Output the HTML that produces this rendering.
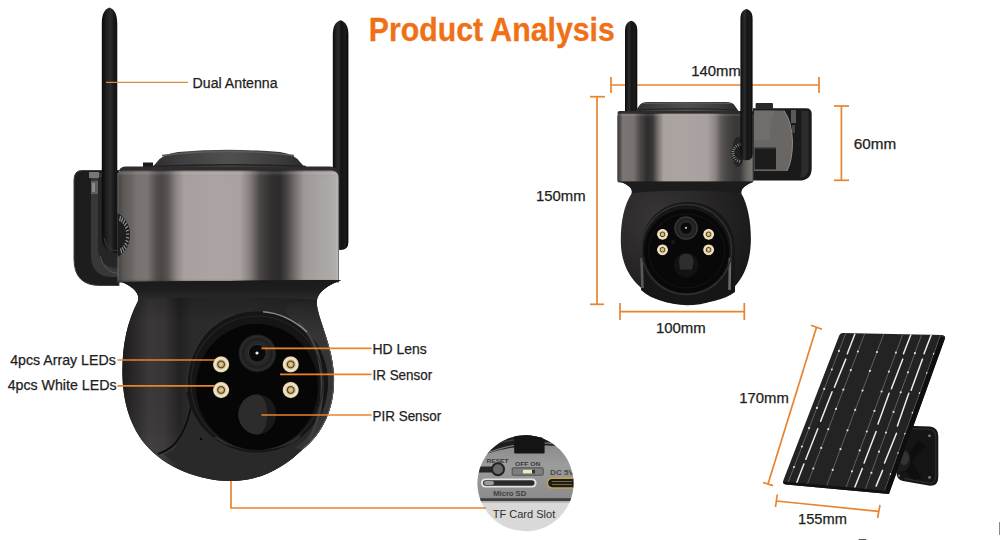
<!DOCTYPE html>
<html><head><meta charset="utf-8">
<style>
html,body{margin:0;padding:0;background:#fff;width:1000px;height:540px;overflow:hidden}
svg{display:block}
text{font-family:"Liberation Sans",sans-serif;fill:#1e1e1e}
.lbl{font-size:14px;stroke:#1e1e1e;stroke-width:0.25px}
</style></head>
<body>
<svg width="1000" height="540" viewBox="0 0 1000 540">
<defs>
  <linearGradient id="cyl" x1="0" x2="1" y1="0" y2="0">
    <stop offset="0" stop-color="#6a6a6a"/>
    <stop offset="0.008" stop-color="#4a4848"/>
    <stop offset="0.03" stop-color="#5e5a58"/>
    <stop offset="0.065" stop-color="#6a6664"/>
    <stop offset="0.085" stop-color="#77726f"/>
    <stop offset="0.133" stop-color="#7a7674"/>
    <stop offset="0.174" stop-color="#55504e"/>
    <stop offset="0.2" stop-color="#4a4644"/>
    <stop offset="0.228" stop-color="#5a5654"/>
    <stop offset="0.264" stop-color="#8a8482"/>
    <stop offset="0.3" stop-color="#a8a09e"/>
    <stop offset="0.44" stop-color="#aca4a2"/>
    <stop offset="0.553" stop-color="#aaa2a0"/>
    <stop offset="0.598" stop-color="#847e7c"/>
    <stop offset="0.643" stop-color="#4a4644"/>
    <stop offset="0.698" stop-color="#302e2e"/>
    <stop offset="0.734" stop-color="#2e2c2c"/>
    <stop offset="0.765" stop-color="#4a4646"/>
    <stop offset="0.806" stop-color="#7a7472"/>
    <stop offset="0.842" stop-color="#a09896"/>
    <stop offset="0.914" stop-color="#a8a4a2"/>
    <stop offset="0.982" stop-color="#b0acaa"/>
    <stop offset="0.993" stop-color="#bcb8b6"/>
    <stop offset="1" stop-color="#555"/>
  </linearGradient>
  <linearGradient id="cyl2" x1="0" x2="1" y1="0" y2="0">
    <stop offset="0" stop-color="#3a3838"/>
    <stop offset="0.025" stop-color="#5a5654"/>
    <stop offset="0.04" stop-color="#7a7674"/>
    <stop offset="0.12" stop-color="#77726f"/>
    <stop offset="0.17" stop-color="#4a4644"/>
    <stop offset="0.22" stop-color="#2e2c2c"/>
    <stop offset="0.26" stop-color="#3a3838"/>
    <stop offset="0.30" stop-color="#7a7472"/>
    <stop offset="0.34" stop-color="#aaa29f"/>
    <stop offset="0.5" stop-color="#aca4a2"/>
    <stop offset="0.66" stop-color="#a8a09e"/>
    <stop offset="0.72" stop-color="#8a8482"/>
    <stop offset="0.76" stop-color="#5e5a58"/>
    <stop offset="0.8" stop-color="#4a4646"/>
    <stop offset="0.86" stop-color="#3a3838"/>
    <stop offset="0.9" stop-color="#3a3838"/>
    <stop offset="0.95" stop-color="#6a6664"/>
    <stop offset="0.985" stop-color="#7a7674"/>
    <stop offset="1" stop-color="#444"/>
  </linearGradient>
  <linearGradient id="cylv" x1="0" x2="0" y1="0" y2="1">
    <stop offset="0" stop-color="#000" stop-opacity="0.3"/>
    <stop offset="0.025" stop-color="#fff" stop-opacity="0.12"/>
    <stop offset="0.06" stop-color="#000" stop-opacity="0"/>
    <stop offset="0.97" stop-color="#000" stop-opacity="0"/>
    <stop offset="1" stop-color="#000" stop-opacity="0.35"/>
  </linearGradient>
  <linearGradient id="cres" gradientUnits="userSpaceOnUse" x1="0" y1="296" x2="0" y2="336">
    <stop offset="0" stop-color="#363434" stop-opacity="0"/>
    <stop offset="1" stop-color="#363434" stop-opacity="1"/>
  </linearGradient>
  <linearGradient id="neck" x1="0" x2="0" y1="0" y2="1">
    <stop offset="0" stop-color="#1a1a1a"/>
    <stop offset="0.5" stop-color="#1e1e1e"/>
    <stop offset="1" stop-color="#2c2b2b"/>
  </linearGradient>
  <linearGradient id="cap" x1="0" x2="0" y1="0" y2="1">
    <stop offset="0" stop-color="#4a4848"/>
    <stop offset="0.4" stop-color="#3c3a3a"/>
    <stop offset="1" stop-color="#232222"/>
  </linearGradient>
  <linearGradient id="caph" x1="0" x2="1" y1="0" y2="0">
    <stop offset="0" stop-color="#2e2d2d"/>
    <stop offset="0.2" stop-color="#403e3e"/>
    <stop offset="0.5" stop-color="#524f4f"/>
    <stop offset="0.8" stop-color="#3e3c3c"/>
    <stop offset="1" stop-color="#2a2929"/>
  </linearGradient>
  <linearGradient id="domeh" gradientUnits="userSpaceOnUse" x1="122" y1="0" x2="336" y2="0">
    <stop offset="0" stop-color="#1c1b1b"/>
    <stop offset="0.06" stop-color="#2a2828"/>
    <stop offset="0.13" stop-color="#3a3838"/>
    <stop offset="0.2" stop-color="#363434"/>
    <stop offset="0.27" stop-color="#222121"/>
    <stop offset="0.33" stop-color="#2c2b2b"/>
    <stop offset="0.6" stop-color="#2c2b2b"/>
    <stop offset="0.9" stop-color="#262525"/>
    <stop offset="1" stop-color="#1c1c1c"/>
  </linearGradient>
  <linearGradient id="domev" gradientUnits="userSpaceOnUse" x1="0" y1="282" x2="0" y2="481">
    <stop offset="0" stop-color="#000" stop-opacity="0.3"/>
    <stop offset="0.2" stop-color="#000" stop-opacity="0"/>
    <stop offset="0.75" stop-color="#fff" stop-opacity="0.02"/>
    <stop offset="1" stop-color="#000" stop-opacity="0.15"/>
  </linearGradient>
  <radialGradient id="domehl" cx="160" cy="350" r="120" gradientUnits="userSpaceOnUse" gradientTransform="translate(160 350) scale(0.7 1.2) translate(-160 -350)">
    <stop offset="0" stop-color="#3c3a3a"/>
    <stop offset="0.45" stop-color="#302e2e"/>
    <stop offset="0.8" stop-color="#242323"/>
    <stop offset="1" stop-color="#1c1b1b"/>
  </radialGradient>
  <radialGradient id="dome" cx="0.28" cy="0.3" r="0.85">
    <stop offset="0" stop-color="#383636"/>
    <stop offset="0.45" stop-color="#292727"/>
    <stop offset="1" stop-color="#161616"/>
  </radialGradient>
  <linearGradient id="ant" x1="0" x2="1" y1="0" y2="0">
    <stop offset="0" stop-color="#0a0a0a"/>
    <stop offset="0.15" stop-color="#1a1a1a"/>
    <stop offset="0.35" stop-color="#2c2c2c"/>
    <stop offset="0.55" stop-color="#141414"/>
    <stop offset="0.8" stop-color="#1c1c1c"/>
    <stop offset="1" stop-color="#080808"/>
  </linearGradient>
  <radialGradient id="led" cx="0.5" cy="0.5" r="0.5">
    <stop offset="0" stop-color="#e8d49a"/>
    <stop offset="0.28" stop-color="#c8aa70"/>
    <stop offset="0.4" stop-color="#4a3a24"/>
    <stop offset="0.54" stop-color="#d8c498"/>
    <stop offset="0.74" stop-color="#f4ead2"/>
    <stop offset="0.9" stop-color="#e0d0b0"/>
    <stop offset="1" stop-color="#5a4a34"/>
  </radialGradient>
  <radialGradient id="lens" cx="0.5" cy="0.5" r="0.5">
    <stop offset="0" stop-color="#050505"/>
    <stop offset="0.45" stop-color="#151515"/>
    <stop offset="0.55" stop-color="#2a2a2a"/>
    <stop offset="0.75" stop-color="#1e1e1e"/>
    <stop offset="0.9" stop-color="#2c2c2c"/>
    <stop offset="1" stop-color="#121212"/>
  </radialGradient>
  <linearGradient id="pir" x1="0" x2="1" y1="0" y2="0">
    <stop offset="0" stop-color="#2c2c2c"/>
    <stop offset="0.5" stop-color="#262626"/>
    <stop offset="0.52" stop-color="#1a1a1a"/>
    <stop offset="1" stop-color="#222"/>
  </linearGradient>
  <linearGradient id="tfgrey" x1="0" x2="0" y1="0" y2="1">
    <stop offset="0" stop-color="#7e7e7e"/>
    <stop offset="0.5" stop-color="#9c9c9c"/>
    <stop offset="1" stop-color="#8a8a8a"/>
  </linearGradient>
  <clipPath id="domeclip"><path d="M122 282 L341 280 C328 285 317 292 316.7 302 C317 318 333 345 334 376 C335 405 325 432 302 450 C285 466 262 481 231 481 C200 481 165 468 145 444 C132 428 122.4 405 122.4 371 C122.4 345 127 322 138 301 C140 294 134 287 122 282 Z"/></clipPath>
  <clipPath id="tfclip"><circle cx="525.5" cy="483.3" r="48"/></clipPath>
  <clipPath id="panelclip"><path d="M843 333 L942 335 Q946 335.5 945 338.5 L889 494 L786 484.5 Q782 484 783.5 480 L839 336 Q840 333 843 333 Z"/></clipPath>
</defs>

<!-- ================= DIMENSION LINES (behind cameras) ================= -->
<g stroke="#E8832F" stroke-width="1.7" fill="none">
  <!-- 140mm -->
  <line x1="611" y1="85" x2="819" y2="85"/>
  <line x1="611" y1="77" x2="611" y2="93"/>
  <line x1="819" y1="77" x2="819" y2="93"/>
  <!-- 60mm -->
  <line x1="841.4" y1="106" x2="841.4" y2="180.3"/>
  <line x1="834" y1="106" x2="849" y2="106"/>
  <line x1="834" y1="180.3" x2="849" y2="180.3"/>
  <!-- 150mm -->
  <line x1="597" y1="96.7" x2="597" y2="304.3"/>
  <line x1="590" y1="96.7" x2="605" y2="96.7"/>
  <line x1="590" y1="304.3" x2="604" y2="304.3"/>
  <!-- 100mm -->
  <line x1="620" y1="311.7" x2="744.3" y2="311.7"/>
  <line x1="620" y1="303" x2="620" y2="320"/>
  <line x1="744.3" y1="303" x2="744.3" y2="320"/>
  <!-- 170mm -->
  <line x1="816.5" y1="327.3" x2="768" y2="484"/>
  <line x1="811" y1="325.3" x2="822" y2="329.3"/>
  <line x1="763" y1="482.5" x2="773" y2="485.6"/>
  <!-- 155mm -->
  <line x1="776.4" y1="501" x2="878.7" y2="511.4"/>
  <line x1="777.3" y1="494.5" x2="775.5" y2="507"/>
  <line x1="880" y1="505" x2="877.6" y2="518"/>
</g>

<text class="lbl" x="691.2" y="76" textLength="49.6" lengthAdjust="spacingAndGlyphs">140mm</text>

<!-- ================= MAIN CAMERA ================= -->
<g id="main">
  <!-- bracket -->
  <path d="M74 180 Q74 170.5 82 170.5 L119 170.5 L119 285.5 L100 285.5 Q74 285.5 74 259 Z" fill="#1d1d1d" stroke="#424242" stroke-width="1"/>
  <path d="M91 173 L119 173 L119 277 L113 277 Q91 277 91 255 Z" fill="#383838"/>
  <path d="M98 177 L119 177 L119 268 Q98 268 98 248 Z" fill="#262626"/>
  <path d="M100 256 Q104 272 119 274" stroke="#555" stroke-width="1" fill="none"/>
  <rect x="89" y="172" width="10" height="6" fill="#777"/>
  <rect x="91" y="181" width="7" height="13" fill="#5e5e5e"/>
  <rect x="92" y="183" width="3" height="9" fill="#8a8a8a"/>
  <!-- left antenna -->
  <path d="M101.8 24 C101.8 15 104 9.5 109.4 7.6 C115 9.5 117.3 15 117.3 24 L117.3 234 Q117.5 242 124 244 L126 246 L126 252 Q120 254 112 253 Q101.8 250 101.8 236 Z" fill="url(#ant)"/>
  <path d="M104 238 Q106 250 118 251" stroke="#3a3a3a" stroke-width="1" fill="none"/>
  <!-- right antenna -->
  <path d="M332.8 35 C332.8 27 335 22 340.6 20.2 C346 22 348.4 27 348.4 35 L348.4 242 Q348.4 250 340.6 250 Q332.8 250 332.8 242 Z" fill="url(#ant)"/>
  <!-- cap tab -->
  <rect x="143" y="162.5" width="10" height="8" fill="#1a1a1a"/>
  <!-- cap -->
  <path d="M150 171 Q153 166 157 162 Q162 154.5 178 152 Q228 147.5 280 152 Q295 154.5 300 162 Q304 166 308 171 Z" fill="url(#caph)"/>
  <path d="M162 155.5 Q228 147.5 294 155.5" stroke="#5c5a5a" stroke-width="1.3" fill="none"/>
  <path d="M152 166.5 Q228 163 306 166.5" stroke="#222" stroke-width="1.4" fill="none"/>
  <path d="M119 171 Q120 166.5 126 166.5 L330 166.5 Q337 167 338 173 Z" fill="#2e2d2d"/>
  <!-- cylinder -->
  <path d="M117.5 176 Q117.5 170.5 123 170.5 L332 170.5 Q339 171.5 339 179 L339 282.5 L117.5 282.5 Z" fill="url(#cyl)"/>
  <path d="M117.5 176 Q117.5 170.5 123 170.5 L332 170.5 Q339 171.5 339 179 L339 282.5 L117.5 282.5 Z" fill="url(#cylv)"/>
  <!-- gear -->
  <path d="M117.5 213 C127 219 130 227 130 235 C130 243 127 251 117.5 257 Z" fill="#1e1e1e"/>
  <g stroke="#9a9a9a" stroke-width="1.1"><line x1="119.7" y1="221.1" x2="120.5" y2="216.1"/><line x1="121.4" y1="222.2" x2="122.8" y2="217.5"/><line x1="122.9" y1="223.8" x2="124.9" y2="219.8"/><line x1="124.2" y1="225.9" x2="126.6" y2="222.7"/><line x1="125.2" y1="228.5" x2="128.0" y2="226.1"/><line x1="125.8" y1="231.3" x2="128.9" y2="229.9"/><line x1="126.1" y1="234.2" x2="129.2" y2="234.0"/><line x1="126.0" y1="237.3" x2="129.1" y2="238.1"/><line x1="125.6" y1="240.2" x2="128.5" y2="242.0"/><line x1="124.7" y1="242.8" x2="127.4" y2="245.7"/><line x1="123.6" y1="245.2" x2="125.8" y2="248.9"/><line x1="122.2" y1="247.1" x2="123.9" y2="251.4"/><line x1="120.6" y1="248.4" x2="121.7" y2="253.3"/></g>
  <!-- dome -->
  <path id="domeshape" d="M122 282 L341 280 C328 285 317 292 316.7 302 C317 318 333 345 334 376 C335 405 325 432 302 450 C285 466 262 481 231 481 C200 481 165 468 145 444 C132 428 122.4 405 122.4 371 C122.4 345 127 322 138 301 C140 294 134 287 122 282 Z" fill="#1e1d1d"/>
  <path d="M122 282 L341 280 C328 285 317 292 316.7 302 C317 318 333 345 334 376 C335 405 325 432 302 450 C285 466 262 481 231 481 C200 481 165 468 145 444 C132 428 122.4 405 122.4 371 C122.4 345 127 322 138 301 C140 294 134 287 122 282 Z" fill="url(#domeh)"/>
  <path d="M122 282 L341 280 C328 285 317 292 316.7 302 C317 318 333 345 334 376 C335 405 325 432 302 450 C285 466 262 481 231 481 C200 481 165 468 145 444 C132 428 122.4 405 122.4 371 C122.4 345 127 322 138 301 C140 294 134 287 122 282 Z" fill="url(#domev)"/>
  <path d="M122 282 L341 280 C328 285 317 292 316.7 300 C280 296 180 296 137.8 300 C140 294 134 287 122 282 Z" fill="url(#neck)"/>
  
  <!-- lower shell -->
  <path d="M193 396 C190 412 187 428 177 441 C172 447 168 450 162 453 C185 472 210 481 231 481 C262 481 296 468 318 440 L300 420 Z" fill="#2a2929" clip-path="url(#domeclip)"/>
  <path d="M194 394 C190 412 187 428 177 441 C172 447 168 450 158 454" stroke="#0c0c0c" stroke-width="1.6" fill="none"/>
  <path d="M176 446 C172 450 166 453 160 456" stroke="#4a4a4a" stroke-width="0.8" fill="none"/>
  <circle cx="201" cy="439" r="1.2" fill="#0a0a0a"/>
  <!-- right shell crescent -->
  <path d="M316.7 302 C317 318 333 345 334 376 C335 405 325 432 302 450 L295 448 A72 76 0 0 0 290.9 318 C275 305 300 298 316.7 302 Z" fill="url(#cres)" clip-path="url(#domeclip)"/>
  <path d="M318 306 C320 322 333 348 334 376 C335 405 325 432 302 450" stroke="#5e5c5c" stroke-width="1.6" fill="none" clip-path="url(#domeclip)"/>
  <!-- face ring -->
  <ellipse cx="257" cy="382" rx="71" ry="70.5" fill="#151515"/>
  <path d="M186.5 392 C185 360 200 325 235 314" stroke="#2e2e2e" stroke-width="2" fill="none"/>
  <path d="M298 323 C324 342 331 400 309 440" stroke="#3e3e3e" stroke-width="3" fill="none"/>
  <path d="M263 311.8 C280 313 296 322 307 332" stroke="#9a9a9a" stroke-width="1.4" fill="none" opacity="0.85"/>
  <path d="M215 437 C235 452 280 454 300 436" stroke="#3a3a3a" stroke-width="1.4" fill="none"/>
  <ellipse cx="257" cy="383" rx="66" ry="67" fill="none" stroke="#262626" stroke-width="1.2"/>
  <ellipse cx="257" cy="387" rx="61" ry="63" fill="#060606"/>
  <!-- lens -->
  <circle cx="257.3" cy="353.3" r="19" fill="url(#lens)"/>
  <circle cx="257.3" cy="353.3" r="9" fill="#0a0a0a" stroke="#333" stroke-width="1.2"/>
  <circle cx="257" cy="353" r="1.6" fill="#eee"/>
  <!-- LEDs -->
  <g>
    <circle cx="221.1" cy="364.4" r="8.3" fill="url(#led)"/>
    <circle cx="290.7" cy="364.4" r="8.3" fill="url(#led)"/>
    <circle cx="221.1" cy="390" r="8.3" fill="url(#led)"/>
    <circle cx="290.7" cy="390" r="8.3" fill="url(#led)"/>
  </g>
  <!-- PIR -->
  <ellipse cx="257.3" cy="414.4" rx="19" ry="20" fill="#1a1a1a"/>
  <path d="M257.3 394.4 A19 20 0 0 0 257.3 434.4 A10 20 0 0 0 257.3 394.4 Z" fill="#2c2c2c"/>
</g>

<!-- ================= RIGHT CAMERA ================= -->
<g id="cam2">
  <!-- bracket -->
  <path d="M753 108.3 L806 108.3 Q811.7 108.3 811.7 114 L811.7 168 Q811.7 180.6 799 180.6 L753 180.6 Z" fill="#1a1a1a"/>
  <path d="M801.5 111 L808.5 111 L808.5 168 Q808.5 177.5 800 177.5 L801.5 170 Z" fill="#2c2c2c"/>
  <path d="M754 110.5 L784 110.5 Q792 122 792.5 142 Q792.5 160 787 171 L754 171 Z" fill="#6a6664"/>
  <path d="M784 110.5 Q792 122 792.5 142 Q792.5 160 787 171" stroke="#8e8a88" stroke-width="1" fill="none"/>
  <path d="M754 110.5 L775 110.5 Q770 120 770 140 L754 140 Z" fill="#77726f" opacity="0.6"/>
  <rect x="754.6" y="147" width="21.4" height="22.4" fill="#1c1c1c"/>
  <rect x="754.6" y="147" width="21.4" height="1.5" fill="#4a4a4a"/>
  <rect x="755.6" y="103" width="17.4" height="6" rx="1" fill="#2a2a2a"/>
  <rect x="791" y="110" width="5" height="13" fill="#5a5a5a"/>
  <rect x="792" y="125" width="3" height="8" fill="#444"/>
  <!-- left antenna -->
  <path d="M625 31 C625 25 627 22 631.2 20.7 C635.5 22 637.3 25 637.3 31 L637.3 118 L625 118 Z" fill="url(#ant)"/>
  <!-- cap -->
  <path d="M634 113 Q637 109 639 106 Q641 102 648 102 L726 102 Q733 102 735 106 Q737 109 740 113 Z" fill="url(#caph)"/>
  <path d="M643 103.5 L731 103.5" stroke="#555" stroke-width="1" fill="none"/>
  <path d="M637 110 Q687 107.5 737 110" stroke="#222" stroke-width="1.2" fill="none"/>
  <rect x="617.5" y="111" width="136" height="4" rx="2" fill="#2e2d2d"/>
  <!-- cylinder -->
  <rect x="617.3" y="113.5" width="136.3" height="69" rx="2.5" fill="url(#cyl2)"/>
  <rect x="617.3" y="113.5" width="136.3" height="69" rx="2.5" fill="url(#cylv)"/>
  <ellipse cx="738" cy="152" rx="6" ry="15" fill="#262525"/>
  <!-- gear -->
  <path d="M742 142.5 C735 144 731 148 731 153 C731 158 735 162 742 163.5 Z" fill="#1e1e1e"/>
  <g stroke="#9a9a9a" stroke-width="0.9"><line x1="740.0" y1="160.1" x2="739.2" y2="162.8"/><line x1="738.3" y1="159.4" x2="736.8" y2="161.9"/><line x1="736.7" y1="158.4" x2="734.7" y2="160.4"/><line x1="735.5" y1="157.0" x2="733.1" y2="158.5"/><line x1="734.7" y1="155.4" x2="731.9" y2="156.3"/><line x1="734.3" y1="153.6" x2="731.4" y2="153.9"/><line x1="734.4" y1="151.9" x2="731.5" y2="151.4"/><line x1="734.9" y1="150.1" x2="732.2" y2="149.0"/><line x1="735.9" y1="148.6" x2="733.5" y2="146.9"/><line x1="737.2" y1="147.3" x2="735.3" y2="145.1"/><line x1="738.7" y1="146.3" x2="737.5" y2="143.8"/><line x1="740.5" y1="145.8" x2="740.0" y2="143.0"/></g>
  <!-- dome -->
  <path d="M620 182 L753 182 C746 185 741 188 741.2 193.2 C748 205 751 222 750.9 240.2 C750.5 262 744 276 735.2 286 C722 300 705 305.2 687 305.2 C668 305.2 650 298 636.5 283.5 C626 272 620.8 258 620.8 240.2 C620.8 222 624 205 631.7 193.2 C633 188 628 185 620 181.5 Z" fill="url(#dome)"/>
  <path d="M620 181.5 L753 181.5 C746 185 741 188 741.2 193 C710 190 660 190 631.7 193 C633 188 628 185 620 181.5 Z" fill="#1c1c1c"/>
  <!-- face ring -->
  <path d="M641 290 L641 250 C641 222 661 202 688 202 C715 202 735 222 735 250 L735 292 C725 300 705 304 687 304 C668 304 652 300 641 290 Z" fill="#161616"/>
  <path d="M641.5 258 L642.5 288" stroke="#5a5a5a" stroke-width="2.6" fill="none"/>
  <path d="M730 258 L729.5 290" stroke="#6a6a6a" stroke-width="2.6" fill="none"/>
  <ellipse cx="686.6" cy="249.5" rx="45" ry="45" fill="none" stroke="#303030" stroke-width="1.5"/>
  <ellipse cx="686.6" cy="251" rx="42.5" ry="42" fill="#080808"/>
  <ellipse cx="686.6" cy="251" rx="38" ry="37" fill="none" stroke="#141414" stroke-width="1"/>
  <circle cx="686.1" cy="228.1" r="12.3" fill="url(#lens)"/>
  <circle cx="686.1" cy="228.1" r="11" fill="none" stroke="#3a3a3a" stroke-width="1"/>
  <circle cx="686.1" cy="228.1" r="6" fill="#0a0a0a" stroke="#2a2a2a" stroke-width="0.8"/>
  <circle cx="686" cy="227.8" r="1.1" fill="#ccc"/>
  <circle cx="662.5" cy="234.3" r="5.6" fill="url(#led)"/>
  <circle cx="708.6" cy="234.3" r="5.6" fill="url(#led)"/>
  <circle cx="662.5" cy="249.8" r="5.6" fill="url(#led)"/>
  <circle cx="708.6" cy="249.8" r="5.6" fill="url(#led)"/>
  <circle cx="673" cy="242" r="2" fill="#1a1a1a"/>
  <circle cx="686.1" cy="265.1" r="12.3" fill="#121212"/>
  <path d="M679 262 C679 256 682 253.7 686 253.7 C690 253.7 693.5 256 693.5 262 L692 269.5 L680 269.5 Z" fill="#2e2e2e"/>
  <!-- right antenna -->
  <path d="M740.4 19 C740.4 13 742.5 10 746.5 9 C750.5 10 752.6 13 752.6 19 L752.6 154 Q752.6 160.3 746.5 160.3 Q740.4 160.3 740.4 154 Z" fill="url(#ant)"/>
</g>

<!-- ================= SOLAR PANEL ================= -->
<g id="solar">
  <!-- mount -->
  <path d="M905 425.8 L930 426.5 Q938.3 427.5 938.3 436 L938.3 477 Q938.3 486 930 485.8 L903 481 Q896.5 480 896.5 472 L897 434 Q898 425.8 905 425.8 Z" fill="#151515"/>
  <path d="M906 428.5 L929 429.2 Q935.8 430.2 935.8 437 L935.8 476 Q935.8 483.3 929 483.2 L904 478.5" stroke="#2c2c2c" stroke-width="1.3" fill="none"/>
  <circle cx="929.5" cy="435.8" r="1.4" fill="#777"/>
  <circle cx="929.5" cy="477.5" r="1.4" fill="#777"/>
  <circle cx="899" cy="475.8" r="1.3" fill="#666"/>
  <path d="M918 440 L926 446 L912 462 L922 478 L914 480 L900 466 Z" fill="#0e0e0e"/>
  <path d="M885 452 Q896 444 908 450 Q914 462 906 470 Q894 474 884 468 Z" fill="#1c1c1c"/>
  <ellipse cx="904" cy="458" rx="5" ry="7" fill="#333"/>
  <!-- panel -->
  <path d="M843 333 L942 335 Q946 335.5 945 338.5 L889 494 L786 484.5 Q782 484 783.5 480 L839 336 Q840 333 843 333 Z" fill="#232323"/>
  <g clip-path="url(#panelclip)">
<g stroke="#7a7a7a" stroke-width="0.7">
<line x1="845.8" y1="333.1" x2="787.5" y2="483.9"/>
<line x1="864.8" y1="333.5" x2="806.9" y2="485.4"/>
<line x1="883.7" y1="334.0" x2="826.2" y2="487.0"/>
<line x1="902.7" y1="334.4" x2="845.6" y2="488.5"/>
<line x1="921.6" y1="334.9" x2="865.0" y2="490.1"/>
<line x1="940.5" y1="335.3" x2="884.4" y2="491.6"/>
</g>
<g stroke="#ececec" stroke-width="1.5" stroke-linecap="round">
<line x1="854.9" y1="334.1" x2="847.3" y2="353.8"/>
<line x1="911.1" y1="334.1" x2="903.5" y2="353.8"/>
<line x1="931.6" y1="334.1" x2="924" y2="353.8"/>
<line x1="845.8" y1="359.1" x2="834.4" y2="387.2"/>
<line x1="902.8" y1="359.1" x2="891.4" y2="388.7"/>
<line x1="922.5" y1="359.1" x2="911.1" y2="390.3"/>
<line x1="832.1" y1="391.8" x2="820.6" y2="421.3"/>
<line x1="889.1" y1="393.3" x2="878" y2="424"/>
<line x1="908.8" y1="393.3" x2="897.4" y2="426"/>
<line x1="817.8" y1="428.7" x2="805.8" y2="459.3"/>
<line x1="876.1" y1="431.5" x2="864.1" y2="463"/>
<line x1="896.5" y1="433.3" x2="884.5" y2="463"/>
<line x1="803.9" y1="463.9" x2="796.5" y2="483.3"/>
<line x1="862.3" y1="468.5" x2="854.9" y2="487"/>
<line x1="882.6" y1="470.4" x2="876.1" y2="486.1"/>
</g>
<g fill="#dcdcdc">
<circle cx="838.9" cy="350.9" r="1.1"/>
<circle cx="857.9" cy="351.5" r="1.1"/>
<circle cx="876.9" cy="352.1" r="1.1"/>
<circle cx="895.9" cy="352.6" r="1.1"/>
<circle cx="914.9" cy="353.2" r="1.1"/>
<circle cx="933.9" cy="353.8" r="1.1"/>
<circle cx="831.8" cy="369.5" r="1.1"/>
<circle cx="850.8" cy="370.2" r="1.1"/>
<circle cx="869.9" cy="370.9" r="1.1"/>
<circle cx="888.9" cy="371.6" r="1.1"/>
<circle cx="908.0" cy="372.3" r="1.1"/>
<circle cx="927.0" cy="373.0" r="1.1"/>
<circle cx="824.2" cy="388.9" r="1.1"/>
<circle cx="843.3" cy="389.7" r="1.1"/>
<circle cx="862.5" cy="390.6" r="1.1"/>
<circle cx="881.6" cy="391.5" r="1.1"/>
<circle cx="900.7" cy="392.3" r="1.1"/>
<circle cx="919.8" cy="393.2" r="1.1"/>
<circle cx="816.9" cy="407.9" r="1.1"/>
<circle cx="836.0" cy="408.9" r="1.1"/>
<circle cx="855.2" cy="409.9" r="1.1"/>
<circle cx="874.4" cy="410.9" r="1.1"/>
<circle cx="893.5" cy="411.9" r="1.1"/>
<circle cx="912.7" cy="412.9" r="1.1"/>
<circle cx="809.1" cy="428.1" r="1.1"/>
<circle cx="828.3" cy="429.2" r="1.1"/>
<circle cx="847.5" cy="430.3" r="1.1"/>
<circle cx="866.8" cy="431.5" r="1.1"/>
<circle cx="886.0" cy="432.6" r="1.1"/>
<circle cx="905.2" cy="433.8" r="1.1"/>
<circle cx="801.9" cy="446.6" r="1.1"/>
<circle cx="821.2" cy="447.9" r="1.1"/>
<circle cx="840.5" cy="449.2" r="1.1"/>
<circle cx="859.7" cy="450.4" r="1.1"/>
<circle cx="879.0" cy="451.7" r="1.1"/>
<circle cx="898.3" cy="453.0" r="1.1"/>
<circle cx="794.0" cy="467.0" r="1.1"/>
<circle cx="813.3" cy="468.5" r="1.1"/>
<circle cx="832.7" cy="469.9" r="1.1"/>
<circle cx="852.0" cy="471.3" r="1.1"/>
<circle cx="871.4" cy="472.8" r="1.1"/>
<circle cx="890.7" cy="474.2" r="1.1"/>
</g>

    <path d="M945 338.5 L889 494 L884.5 492 L940.5 336.5 Z" fill="#0e0e0e"/>
    <path d="M783 481.5 L889 491 L889 495 L783 485.5 Z" fill="#111"/>
  </g>
</g>

<!-- ================= TF CARD ================= -->
<g id="tf" clip-path="url(#tfclip)">
  <rect x="470" y="430" width="110" height="110" fill="#d9d9d9"/>
  <rect x="470" y="430" width="110" height="71" fill="url(#tfgrey)"/>
  <path d="M470 430 L580 430 L580 449 Q540 441 500 450 Q480 455 470 462 Z" fill="#1e1e1e"/>
  <path d="M474 459 Q500 446 530 443 Q555 442 576 447" stroke="#7a7a7a" stroke-width="1.2" fill="none"/>
  <path d="M470 452 Q500 440 530 438 Q555 437 580 442" stroke="#555" stroke-width="0.8" fill="none"/>
  <rect x="514.2" y="432" width="30.4" height="21.6" rx="1" fill="#141414"/>
  <!-- reset -->
  <rect x="470" y="466.5" width="24" height="6" rx="3" fill="#262626"/>
  <circle cx="498" cy="469.2" r="6" fill="#6a6a6a" stroke="#222" stroke-width="2"/>
  <text x="486.5" y="462.6" font-size="5.6" style="fill:#3a3a3a" font-weight="bold" textLength="22" lengthAdjust="spacingAndGlyphs">RESET</text>
  <!-- switch -->
  <rect x="512.2" y="467.8" width="31" height="7.4" rx="1" fill="#7e7e7e" stroke="#505050" stroke-width="1"/>
  <rect x="523" y="469.8" width="9.4" height="3.6" fill="#f0e8c0"/>
  <rect x="532" y="469.8" width="3" height="3.6" fill="#333"/>
  <text x="514.9" y="466" font-size="5.6" style="fill:#3a3a3a" font-weight="bold" textLength="25.6" lengthAdjust="spacingAndGlyphs">OFF ON</text>
  <!-- sd -->
  <rect x="481" y="478.6" width="55.5" height="8.8" rx="4.2" fill="#e2e2e2"/>
  <rect x="483" y="480.3" width="51.5" height="5.4" rx="2.7" fill="#2a2a2a"/>
  <rect x="484" y="481" width="10" height="4" rx="2" fill="#9a9a9a"/>
  <text x="493.2" y="495.5" font-size="7" style="fill:#404040" font-weight="bold" textLength="33" lengthAdjust="spacingAndGlyphs">Micro SD</text>
  <!-- usb c -->
  <rect x="547.4" y="478.1" width="30" height="9.9" rx="4.9" fill="#1c1c1c" stroke="#bfa24a" stroke-width="1.6"/>
  <line x1="552" y1="481.5" x2="572" y2="481.5" stroke="#8a7a40" stroke-width="0.8"/>
  <line x1="552" y1="484.5" x2="572" y2="484.5" stroke="#8a7a40" stroke-width="0.8"/>
  <text x="550" y="474.6" font-size="6.5" style="fill:#4a4a4a" font-weight="bold" textLength="24" lengthAdjust="spacingAndGlyphs">DC 5V</text>
  <rect x="470" y="498.2" width="110" height="3" fill="#3e3e3e"/>
  <rect x="470" y="501.2" width="110" height="1.5" fill="#b0b0b0"/>
</g>
<text x="492.8" y="517.6" font-size="11.2" style="fill:#2e2e2e" textLength="62.4" lengthAdjust="spacingAndGlyphs">TF Card Slot</text>

<!-- ================= ANNOTATION LINES ================= -->
<g stroke="#E8832F" stroke-width="1.7" fill="none">
  <line x1="106" y1="82.3" x2="188" y2="82.3" stroke="#D98A3A" stroke-width="1.2"/>
  <line x1="117.5" y1="360" x2="215" y2="360"/>
  <line x1="117.5" y1="385.8" x2="215" y2="385.8"/>
  <line x1="261.5" y1="348.3" x2="371.5" y2="348.3"/>
  <line x1="280" y1="374.3" x2="371.5" y2="374.3"/>
  <line x1="261.5" y1="415" x2="371.5" y2="415"/>
  <polyline points="231,481 231,508 486,508"/>
</g>

<!-- ================= TEXT ================= -->
<text x="368.8" y="40.7" font-size="32.4" font-weight="bold" textLength="246" lengthAdjust="spacingAndGlyphs" style="fill:#EF7016;stroke:#EF7016;stroke-width:0.3px">Product Analysis</text>
<text class="lbl" x="192.6" y="87.8" textLength="85.0" lengthAdjust="spacingAndGlyphs">Dual Antenna</text>
<text class="lbl" x="10.2" y="364.7" textLength="105.6" lengthAdjust="spacingAndGlyphs">4pcs Array LEDs</text>
<text class="lbl" x="7.7" y="390" textLength="108.8" lengthAdjust="spacingAndGlyphs">4pcs White LEDs</text>
<text class="lbl" x="372.5" y="354" textLength="54.3" lengthAdjust="spacingAndGlyphs">HD Lens</text>
<text class="lbl" x="372.5" y="379.6" textLength="59.6" lengthAdjust="spacingAndGlyphs">IR Sensor</text>
<text class="lbl" x="372.5" y="420.7" textLength="68.8" lengthAdjust="spacingAndGlyphs">PIR Sensor</text>
<text class="lbl" x="853.8" y="149" textLength="42.4" lengthAdjust="spacingAndGlyphs">60mm</text>
<text class="lbl" x="536.0" y="200.6" textLength="49.6" lengthAdjust="spacingAndGlyphs">150mm</text>
<text class="lbl" x="655.9" y="332.7" textLength="49.9" lengthAdjust="spacingAndGlyphs">100mm</text>
<text class="lbl" x="739.2" y="403" textLength="49.6" lengthAdjust="spacingAndGlyphs">170mm</text>
<text class="lbl" x="798.1" y="524" textLength="48.8" lengthAdjust="spacingAndGlyphs">155mm</text>
<rect x="858.6" y="539" width="7.6" height="1" fill="#5a5a5a"/>
<rect x="999" y="522" width="1" height="13" fill="#8a8a8a"/>
</svg>
</body></html>
